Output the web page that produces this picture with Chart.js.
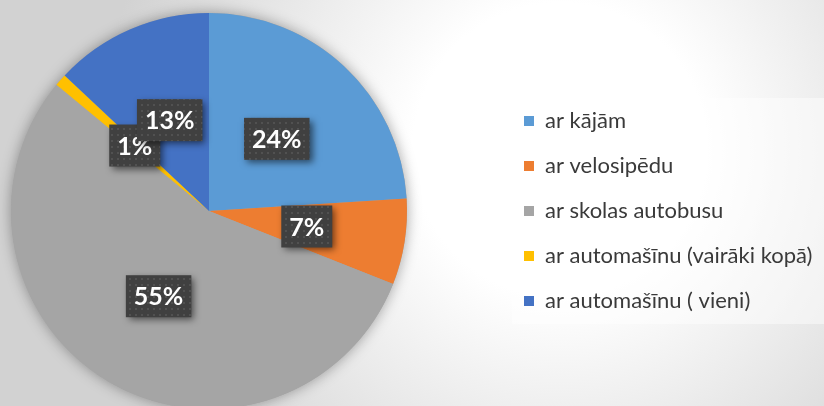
<!DOCTYPE html>
<html>
<head>
<meta charset="utf-8">
<script src="https://cdn.jsdelivr.net/npm/chart.js@4"></script>
<style>
  html, body {
    margin: 0;
    padding: 0;
    width: 824px;
    height: 406px;
    overflow: hidden;
    position: relative;
    background: radial-gradient(circle 460px at 560px 150px, #ffffff 0%, #ffffff 32%, #d2d2d2 100%);
  }
  #wrap {
    position: absolute;
    left: -83px;
    top: 0;
    width: 907px;
    height: 422px;
  }
</style>
</head>
<body>
<div id="wrap"><canvas id="pieChart" width="907" height="422"></canvas></div>
<script>
const categories = [
  'ar kājām',
  'ar velosipēdu',
  'ar skolas autobusu',
  'ar automašīnu (vairāki kopā)',
  'ar automašīnu ( vieni)'
];
const shares = [24, 7, 55, 1, 13];
const sliceColors = ['#5B9BD5', '#ED7D31', '#A5A5A5', '#FFC000', '#4472C4'];

const LEGEND_W = 323;

// little dotted texture used inside the label boxes
const dotTile = document.createElement('canvas');
dotTile.width = 6;
dotTile.height = 6;
const dctx = dotTile.getContext('2d');
dctx.fillStyle = 'rgba(255,255,255,0.09)';
dctx.fillRect(2, 2, 2, 2);

const legendWidth = {
  id: 'legendWidth',
  beforeLayout(chart) {
    const legend = chart.legend;
    if (legend && !legend._fixedFit) {
      const fit = legend.fit;
      legend.fit = function () {
        fit.call(this);
        this.width = LEGEND_W;
      };
      legend._fixedFit = true;
    }
  },
  beforeDraw(chart) {
    const boxes = chart.legend && chart.legend.legendHitBoxes;
    if (!boxes || !boxes.length) return;
    const first = boxes[0];
    const last = boxes[boxes.length - 1];
    const ctx = chart.ctx;
    ctx.save();
    ctx.fillStyle = 'rgba(255,255,255,0.45)';
    const top = first.top - 12;
    ctx.fillRect(first.left - 12, top, chart.width - first.left + 12, last.top + last.height + 12 - top);
    ctx.restore();
  }
};

const pieShadow = {
  id: 'pieShadow',
  beforeDatasetsDraw(chart) {
    const arc = chart.getDatasetMeta(0).data[0];
    if (!arc) return;
    const ctx = chart.ctx;
    ctx.save();
    ctx.shadowColor = 'rgba(0,0,0,0.35)';
    ctx.shadowBlur = 14;
    ctx.fillStyle = '#a5a5a5';
    ctx.beginPath();
    ctx.arc(arc.x, arc.y, arc.outerRadius, 0, Math.PI * 2);
    ctx.fill();
    ctx.restore();
  }
};

const boxLabels = {
  id: 'boxLabels',
  afterDatasetsDraw(chart) {
    const ctx = chart.ctx;
    const meta = chart.getDatasetMeta(0);
    const total = shares.reduce((a, b) => a + b, 0);
    const pattern = ctx.createPattern(dotTile, 'repeat');
    ctx.save();
    ctx.font = 'bold 25px Lato';
    ctx.textAlign = 'center';
    ctx.textBaseline = 'middle';
    meta.data.forEach((arc, i) => {
      const pos = arc.tooltipPosition();
      const txt = Math.round(shares[i] / total * 100) + '%';
      const w = ctx.measureText(txt).width + 16;
      const h = 42;
      const bx = pos.x - w / 2;
      const by = pos.y - h / 2;
      ctx.shadowColor = 'rgba(0,0,0,0.55)';
      ctx.shadowBlur = 7;
      ctx.shadowOffsetX = 3;
      ctx.shadowOffsetY = 3;
      ctx.fillStyle = '#404040';
      ctx.fillRect(bx, by, w, h);
      ctx.shadowColor = 'transparent';
      ctx.fillStyle = pattern;
      ctx.fillRect(bx, by, w, h);
      ctx.fillStyle = '#ffffff';
      ctx.fillText(txt, pos.x, pos.y + 1);
    });
    ctx.restore();
  }
};

new Chart(document.getElementById('pieChart'), {
  type: 'pie',
  data: {
    labels: categories,
    datasets: [{
      data: shares,
      backgroundColor: sliceColors,
      borderWidth: 0
    }]
  },
  options: {
    responsive: false,
    devicePixelRatio: 1,
    animation: false,
    layout: {
      padding: { left: 0, right: 0, top: 13, bottom: 13 }
    },
    plugins: {
      legend: {
        position: 'right',
        labels: {
          boxWidth: 10,
          boxHeight: 10,
          padding: 23,
          color: '#3a3a3a',
          font: { family: 'Lato', size: 22 }
        }
      },
      tooltip: { enabled: false }
    }
  },
  plugins: [legendWidth, pieShadow, boxLabels]
});
</script>
</body>
</html>
